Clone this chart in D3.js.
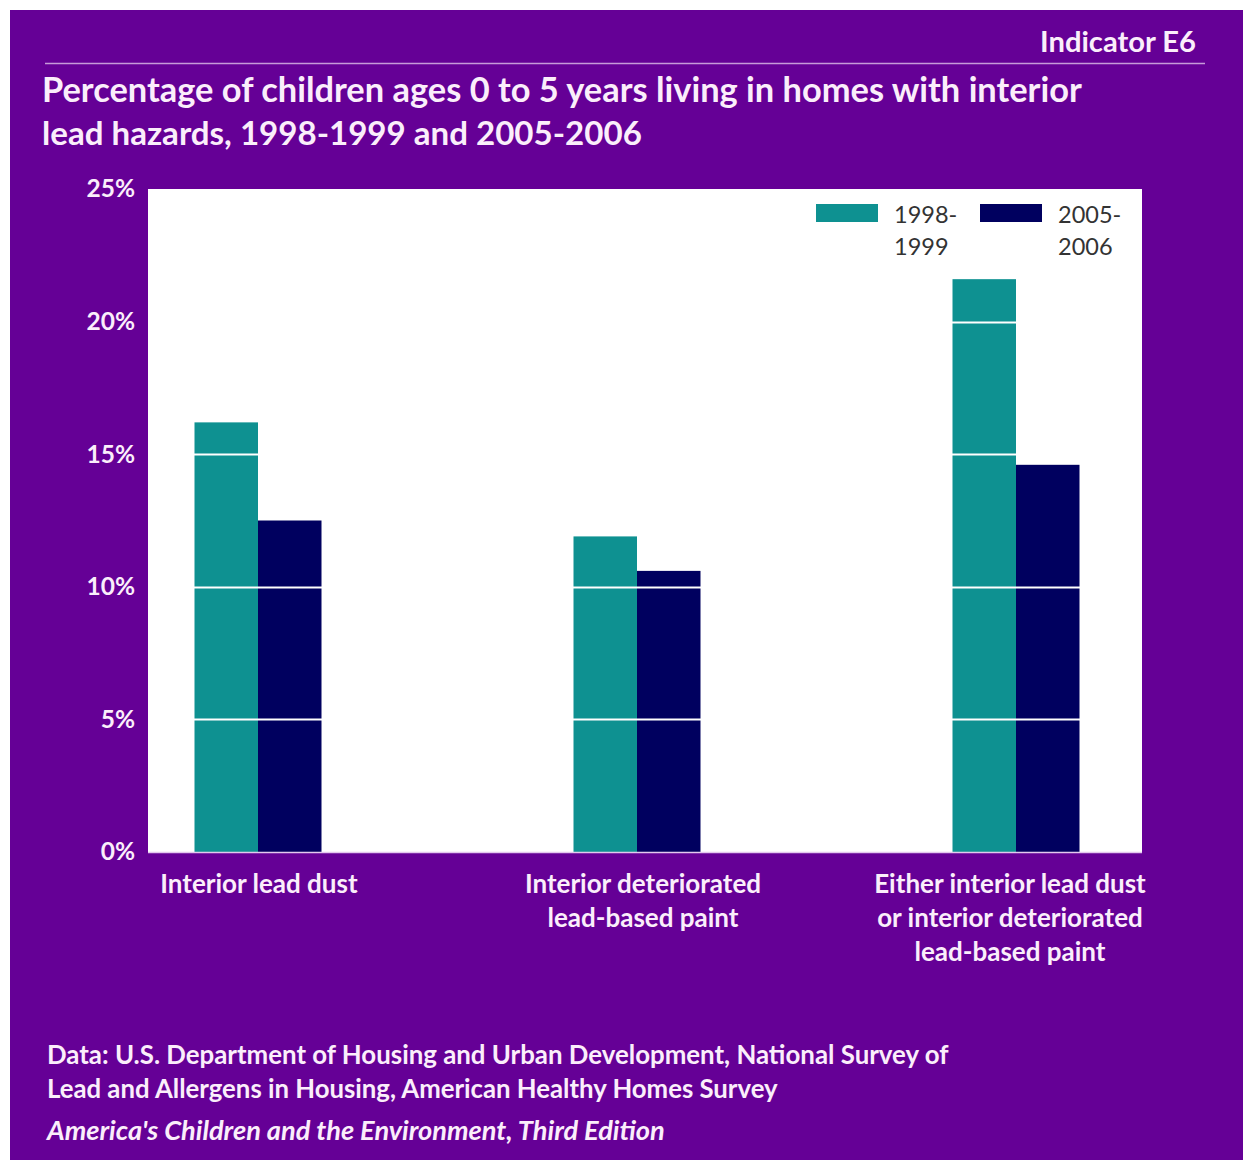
<!DOCTYPE html>
<html><head><meta charset="utf-8">
<script src="https://cdn.jsdelivr.net/npm/d3@7"></script>
<style>body{margin:0;background:#fff}</style>
</head><body>
<script>
const categories = [
  ["Interior lead dust"],
  ["Interior deteriorated", "lead-based paint"],
  ["Either interior lead dust", "or interior deteriorated", "lead-based paint"]
];
const seriesNames = [["1998-","1999"],["2005-","2006"]];
const values1998 = [16.2, 11.9, 21.6];
const values2005 = [12.5, 10.6, 14.6];
const yTicks = [0, 5, 10, 15, 20, 25];
const titleLines = ["Percentage of children ages 0 to 5 years living in homes with interior",
                    "lead hazards, 1998-1999 and 2005-2006"];
const footerLines = ["Data: U.S. Department of Housing and Urban Development, National Survey of",
                     "Lead and Allergens in Housing, American Healthy Homes Survey"];
const sourceLine = "America's Children and the Environment, Third Edition";

const W = 1243, H = 1160;
const purple = "#650096", teal = "#0e9191", navy = "#00005f", txt = "#fbeefb";
const FONT = "Lato, 'Open Sans', sans-serif";

const svg = d3.select("body").append("svg").attr("width", W).attr("height", H);
svg.append("rect").attr("x", 10).attr("y", 10).attr("width", W - 10).attr("height", H - 10).attr("fill", purple);

function fit(sel, target) {
  const w = sel.node().getComputedTextLength();
  const fs = parseFloat(sel.attr("font-size"));
  sel.attr("font-size", fs * target / w);
  return sel;
}

// header
fit(svg.append("text").attr("x", 1196).attr("y", 52).attr("text-anchor", "end")
  .attr("font-family", FONT).attr("font-weight", 700).attr("font-size", 26).attr("fill", txt)
  .text("Indicator E6"), 156);
svg.append("line").attr("x1", 45).attr("x2", 1205).attr("y1", 63.5).attr("y2", 63.5)
  .attr("stroke", "#c79ad9").attr("stroke-width", 1.5);
const tW = [1040, 600];
titleLines.forEach((t, i) => {
  fit(svg.append("text").attr("x", 42).attr("y", 102 + i * 43)
    .attr("font-family", FONT).attr("font-weight", 700).attr("font-size", 30).attr("fill", txt)
    .text(t), tW[i]);
});

// plot
const plot = {left: 148, right: 1142, top: 189, bottom: 852};
svg.append("rect").attr("x", plot.left).attr("y", plot.top)
  .attr("width", plot.right - plot.left).attr("height", plot.bottom - plot.top).attr("fill", "#fff");

const y = d3.scaleLinear().domain([0, 25]).range([plot.bottom, plot.top]);
const x = d3.scalePoint().domain(d3.range(categories.length)).range([258, 1016]);
const bw = 63.5;

const g = svg.append("g");
g.selectAll("rect.a").data(values1998).join("rect")
  .attr("x", (d, i) => x(i) - bw).attr("width", bw)
  .attr("y", d => y(d)).attr("height", d => y(0) - y(d)).attr("fill", teal);
g.selectAll("rect.b").data(values2005).join("rect")
  .attr("x", (d, i) => x(i)).attr("width", bw)
  .attr("y", d => y(d)).attr("height", d => y(0) - y(d)).attr("fill", navy);

// gridlines (white, visible over bars)
svg.append("g").selectAll("line").data(yTicks.filter(t => t > 0 && t < 25)).join("line")
  .attr("x1", plot.left).attr("x2", plot.right)
  .attr("y1", d => Math.round(y(d)) + 0.5).attr("y2", d => Math.round(y(d)) + 0.5)
  .attr("stroke", "#ffffff").attr("stroke-width", 2);
svg.append("line").attr("x1", plot.left).attr("x2", plot.right)
  .attr("y1", plot.bottom + 0.5).attr("y2", plot.bottom + 0.5).attr("stroke", "#e3c8ee").attr("stroke-width", 1.5);

// y axis labels
const yAxis = d3.axisLeft(y).tickValues(yTicks).tickFormat(d => d + "%").tickSize(0).tickPadding(13);
const ya = svg.append("g").attr("transform", `translate(${plot.left},0)`).call(yAxis);
ya.select(".domain").remove();
ya.selectAll("text").attr("font-family", FONT).attr("font-weight", 700).attr("font-size", 24.5).attr("fill", txt);

// x labels
const xCenters = [259, 643, 1010];
categories.forEach((lines, i) => {
  lines.forEach((t, j) => {
    svg.append("text").attr("x", xCenters[i]).attr("y", 893 + j * 34).attr("text-anchor", "middle")
      .attr("font-family", FONT).attr("font-weight", 700).attr("font-size", 26).attr("fill", txt).text(t);
  });
});

// legend
const legX = [816, 980];
const legColors = [teal, navy];
seriesNames.forEach((s, i) => {
  svg.append("rect").attr("x", legX[i]).attr("y", 204).attr("width", 62).attr("height", 18).attr("fill", legColors[i]);
  s.forEach((t, j) => {
    svg.append("text").attr("x", legX[i] + 78).attr("y", 223 + j * 32)
      .attr("font-family", FONT).attr("font-size", 23.5).attr("fill", "#333").text(t);
  });
});

// footer
const fW = [902, 731];
footerLines.forEach((t, i) => {
  fit(svg.append("text").attr("x", 47).attr("y", 1064 + i * 34)
    .attr("font-family", FONT).attr("font-weight", 700).attr("font-size", 22).attr("fill", txt).text(t), fW[i]);
});
fit(svg.append("text").attr("x", 47).attr("y", 1140)
  .attr("font-family", FONT).attr("font-weight", 700).attr("font-style", "italic").attr("font-size", 22)
  .attr("fill", txt).text(sourceLine), 618);
</script>
</body></html>
